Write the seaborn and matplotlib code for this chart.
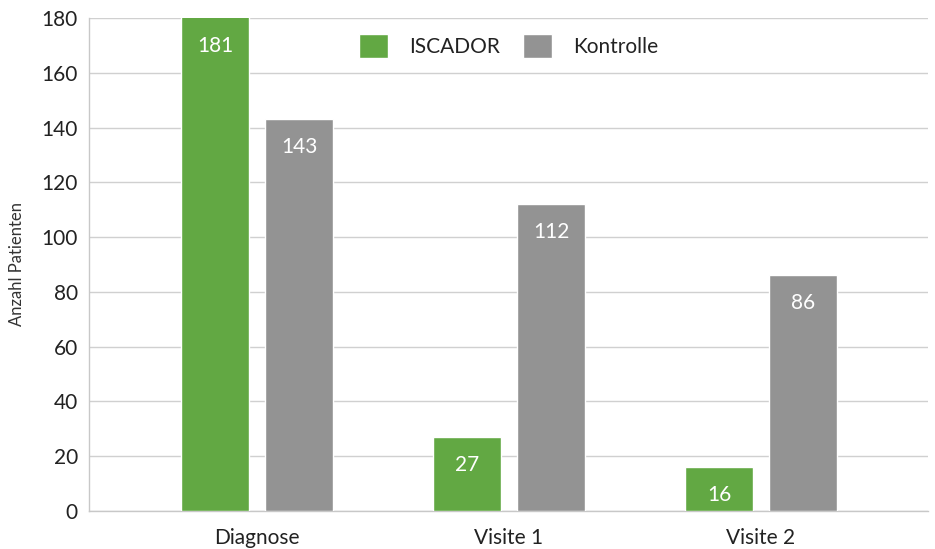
import pandas as pd
import matplotlib
matplotlib.use("Agg")
import matplotlib.pyplot as plt
import seaborn as sns

categories = ["Diagnose", "Visite 1", "Visite 2"]
iscador = [181, 27, 16]
kontrolle = [143, 112, 86]
groups = ["ISCADOR", "Kontrolle"]
yticks = [0, 20, 40, 60, 80, 100, 120, 140, 160, 180]

df = pd.DataFrame({
    "Zeitpunkt": categories * 2,
    "Gruppe": [groups[0]] * 3 + [groups[1]] * 3,
    "Anzahl": iscador + kontrolle,
})

sns.set_style("white")
plt.rcParams["font.family"] = ["Lato", "DejaVu Sans"]

palette = {"ISCADOR": "#62a843", "Kontrolle": "#939393"}

fig = plt.figure(figsize=(9.35, 5.49), dpi=100)
ax = fig.add_axes([89 / 935, 1 - 511 / 549, 839 / 935, 493 / 549])

sns.barplot(data=df, x="Zeitpunkt", y="Anzahl", hue="Gruppe", palette=palette,
            width=0.667, gap=0.19, saturation=1, ax=ax, zorder=3)

ax.set_ylim(0, 180)
ax.set_xlim(-0.667, 2.663)
ax.set_yticks(yticks)
ax.yaxis.grid(True, color="#d0d0d0", linewidth=1, zorder=0)
ax.set_axisbelow(True)
for side in ["top", "right"]:
    ax.spines[side].set_visible(False)
for side in ["left", "bottom"]:
    ax.spines[side].set_color("#c8c8c8")
    ax.spines[side].set_linewidth(1)
ax.tick_params(axis="both", length=0, labelsize=15, colors="#222222", pad=8)
ax.tick_params(axis="x", pad=12)
ax.set_xlabel("")
ax.set_ylabel("Anzahl Patienten", fontsize=12, color="#333333", labelpad=12)

# bar labels inside the top of each bar (the 181 bar is cut at 180)
for cont in ax.containers:
    texts = ax.bar_label(cont, labels=[str(int(v)) for v in cont.datavalues],
                         label_type="edge", padding=-27, color="white", fontsize=15)
    for t in texts:
        t.set_annotation_clip(False)
        if t.xy[1] > 180:
            t.xy = (t.xy[0], 180)

leg = ax.legend(loc="upper center", bbox_to_anchor=(0.5, 1.005), ncol=2, frameon=False,
                fontsize=15, handlelength=1.4, handleheight=1.4, columnspacing=1.1,
                handletextpad=1.0)
for t in leg.get_texts():
    t.set_color("#222222")

fig.savefig("out.png", dpi=100)
